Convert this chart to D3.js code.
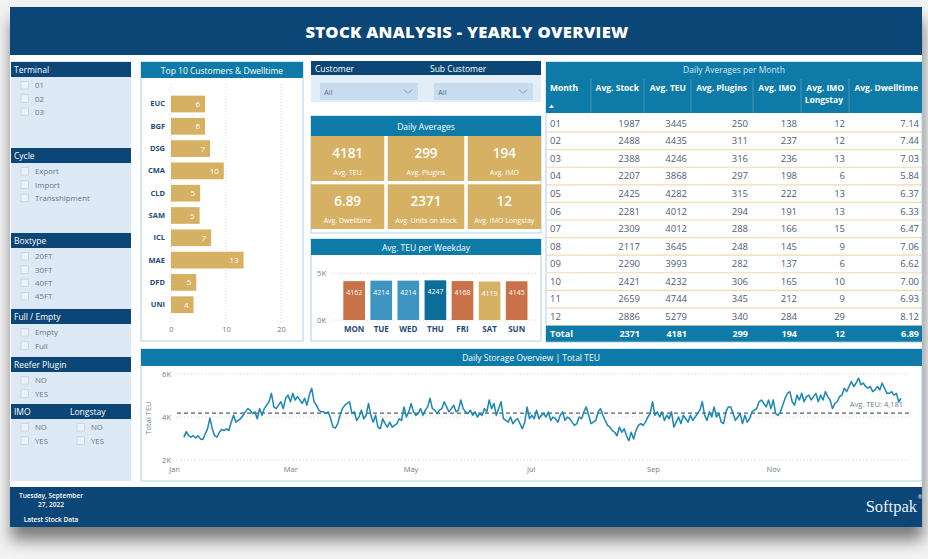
<!DOCTYPE html>
<html>
<head>
<meta charset="utf-8">
<script src="https://cdn.jsdelivr.net/npm/d3@7"></script>
<style>
  html, body { margin: 0; padding: 0; background: #f3f3f3; }
  svg { display: block; font-family: 'Open Sans', 'Noto Sans', sans-serif; }
</style>
</head>
<body>
<svg id="dash" width="928" height="559"></svg>
<script>
// ── DATA ──────────────────────────────────────────────────────────
const terminals = ['01', '02', '03'];
const cycles    = ['Export', 'Import', 'Transshipment'];
const boxtypes  = ['20FT', '30FT', '40FT', '45FT'];
const fullEmpty = ['Empty', 'Full'];
const reefer    = ['NO', 'YES'];
const imoOpts   = ['NO', 'YES'];
const longstayOpts = ['NO', 'YES'];

const customers = ['EUC', 'BGF', 'DSG', 'CMA', 'CLD', 'SAM', 'ICL', 'MAE', 'DFD', 'UNI'];
const dwelltime = [6.2, 6.2, 7.1, 9.6, 5.3, 5.2, 7.3, 13.2, 4.6, 4.1];

const cardValues = ['4181', '299', '194', '6.89', '2371', '12'];
const cardLabels = ['Avg. TEU', 'Avg. Plugins', 'Avg. IMO', 'Avg. Dwelltime', 'Avg. Units on stock', 'Avg. IMO Longstay'];

const weekdays   = ['MON', 'TUE', 'WED', 'THU', 'FRI', 'SAT', 'SUN'];
const weekdayTEU = [4162, 4214, 4214, 4247, 4168, 4119, 4145];

const months      = ['01','02','03','04','05','06','07','08','09','10','11','12'];
const avgStock    = [1987, 2488, 2388, 2207, 2425, 2281, 2309, 2117, 2290, 2421, 2659, 2886];
const avgTEU      = [3445, 4435, 4246, 3868, 4282, 4012, 4012, 3645, 3993, 4232, 4744, 5279];
const avgPlugins  = [250, 311, 316, 297, 315, 294, 288, 248, 282, 306, 345, 340];
const avgIMO      = [138, 237, 236, 198, 222, 191, 166, 145, 137, 165, 212, 284];
const avgLongstay = [12, 12, 13, 6, 13, 13, 15, 9, 6, 10, 9, 29];
const avgDwell    = [7.14, 7.44, 7.03, 5.84, 6.37, 6.33, 6.47, 7.06, 6.62, 7.00, 6.93, 8.12];
const totals      = [2371, 4181, 299, 194, 12, 6.89];

// daily total TEU
const seriesStart = new Date(2022, 0, 6);
const seriesEnd   = new Date(2023, 0, 5);
const dailyTEU = [
  3060,3320,3130,3060,3130,3020,3130,2980,2950,3210,3450,3950,3450,3130,3060,3290,3420,3370,3450,3370,
  3760,4080,3760,3840,3920,4080,4240,4390,4320,4160,4240,3920,4390,4080,4390,4550,4710,5100,4470,4390,
  4550,4710,4390,4870,5020,4710,5100,4790,4950,4790,4630,4870,4550,5020,5340,4710,4550,4320,4240,4240,
  4160,4240,3920,3530,3480,3690,4080,4390,4550,4630,4710,4160,4240,3840,4000,4320,3920,4080,4630,4080,
  3760,4080,3530,3450,3920,3690,3530,3760,3530,3610,3690,3920,3840,4470,4000,4240,4630,4240,4080,4160,
  4390,4080,4320,4470,4870,4390,4320,4160,4320,4390,4710,4470,4240,4390,4550,4240,4320,4790,4390,4240,
  4160,4320,4080,4240,4000,4160,4080,4390,4240,4790,4390,4630,4080,4390,4710,3920,3840,3760,4000,3690,
  3840,3920,3690,3450,3760,4470,3920,4080,3920,4320,3920,4080,4160,4000,4240,3840,4000,3920,3760,4080,
  4240,3840,4000,3920,3760,3610,3690,4000,3920,4240,4470,4080,3690,3760,3840,4240,4390,4080,3840,3610,
  3530,3370,3290,3130,3530,3290,3450,3130,2900,3290,2980,3370,3610,3690,3610,3760,4000,4160,4710,4080,
  4240,4000,4240,3840,4080,3920,4240,3530,3760,4000,3690,4080,3920,3760,4080,3840,4000,4160,4320,4710,
  4080,3840,4240,4000,4470,4000,4160,3760,3690,4240,4470,4470,4160,3840,4000,4160,3690,4080,3760,3920,
  4240,4320,4390,4710,4790,4630,4470,4790,4390,4790,4160,4080,4240,4550,4870,5100,5180,4710,4550,5020,
  4790,5100,4710,4950,5020,4790,4950,5100,4710,5020,4790,5180,4950,4790,4390,4630,4710,4950,5020,5340,
  5180,5420,5650,5420,5580,5810,5500,5580,5420,5340,5420,5180,5260,5420,5260,5580,5340,5100,5100,5180,
  5020,5100,4710,4870
];

// ── STYLE ─────────────────────────────────────────────────────────
const NAVY = '#0c4677', TEAL = '#0e7aa7', GOLD = '#d6b163', PANEL = '#dde9f5';
const BORDER = '#a9d0e5', LABEL = '#1f4b78', GRAY = '#6e7d8e';
const weekdayFill = d3.scaleOrdinal().domain(weekdays)
  .range(['#c9724a', '#3e95c0', '#3e95c0', '#0c6d98', '#c9724a', '#d6b163', '#c9724a']);

const svg = d3.select('#dash');

const defs = svg.append('defs');
defs.append('filter').attr('id', 'shadow')
  .attr('x', '-5%').attr('y', '-5%').attr('width', '110%').attr('height', '125%')
  .append('feDropShadow')
    .attr('dx', 1).attr('dy', 13).attr('stdDeviation', 8)
    .attr('flood-color', '#000').attr('flood-opacity', 0.5);

function box(x, y, w, h, fill, stroke) {
  return svg.append('rect')
    .attr('x', x).attr('y', y).attr('width', w).attr('height', h)
    .attr('fill', fill).attr('stroke', stroke || 'none').attr('stroke-width', 1);
}
function txt(x, y, s, size, fill, anchor, weight) {
  return svg.append('text')
    .attr('x', x).attr('y', y)
    .attr('font-size', size).attr('fill', fill)
    .attr('text-anchor', anchor || 'start')
    .attr('font-weight', weight || 400)
    .text(s);
}
function styleAxis(g, size, fill, weight) {
  g.select('.domain').remove();
  g.attr('font-family', null).attr('font-size', null);
  g.selectAll('text').attr('font-size', size).attr('fill', fill).attr('font-weight', weight || 400);
}

// ── FRAME ─────────────────────────────────────────────────────────
box(10, 7, 912, 520, '#fff').attr('filter', 'url(#shadow)');
box(10, 7, 912, 48, NAVY);
txt(467, 37.5, 'STOCK ANALYSIS - YEARLY OVERVIEW', 16.6, '#fff', 'middle', 800).attr('letter-spacing', 0.3);

// footer
box(10, 487, 912, 40, NAVY);
txt(51, 498, 'Tuesday, September', 6.5, '#fff', 'middle', 600);
txt(51, 507, '27, 2022', 6.5, '#fff', 'middle', 600);
txt(51, 522, 'Latest Stock Data', 6.5, '#fff', 'middle', 600);
txt(917, 512, 'Softpak', 16.5, '#e8eef5', 'end').attr('font-family', "'Liberation Serif', serif");
txt(918, 499, '®', 5, '#e8eef5', 'start');

// ── SLICERS (left) ────────────────────────────────────────────────
box(11, 61, 120, 420, PANEL);

function checkItem(x, cy, s) {
  svg.append('rect')
    .attr('x', x).attr('y', cy - 4).attr('width', 7.5).attr('height', 7.5)
    .attr('fill', '#eaf2fa').attr('stroke', '#c3cdd8').attr('stroke-width', 0.7);
  txt(x + 14, cy + 2.8, s, 7.8, '#65778b');
}

const slicers = [
  { title: 'Terminal',      top: 62,  items: terminals },
  { title: 'Cycle',         top: 148, items: cycles },
  { title: 'Boxtype',       top: 233, items: boxtypes },
  { title: 'Full / Empty',  top: 309, items: fullEmpty },
  { title: 'Reefer Plugin', top: 357, items: reefer },
];
slicers.forEach(s => {
  box(11, s.top, 120, 15, NAVY);
  txt(14, s.top + 11, s.title, 8.5, '#fff');
  s.items.forEach((it, i) => checkItem(21, s.top + 23.5 + i * 13.3, it));
});
box(11, 404, 120, 15, NAVY);
txt(14, 415, 'IMO', 8.5, '#fff');
txt(70, 415, 'Longstay', 8.5, '#fff');
imoOpts.forEach((it, i) => checkItem(21, 427.5 + i * 13.3, it));
longstayOpts.forEach((it, i) => checkItem(77, 427.5 + i * 13.3, it));

// ── TOP 10 CUSTOMERS ──────────────────────────────────────────────
box(141, 62, 162, 279, '#fff', BORDER);
box(141, 62, 162, 16, TEAL);
txt(222, 73.5, 'Top 10 Customers & Dwelltime', 8.5, '#fff', 'middle');

const tx = d3.scaleLinear().domain([0, 20]).range([171, 281]);
const ty = d3.scaleBand().domain(customers).range([92.85, 315.85]).paddingInner(0.25).paddingOuter(0.125);

svg.append('g').selectAll('line').data([0, 10, 20]).join('line')
  .attr('x1', d => tx(d)).attr('x2', d => tx(d))
  .attr('y1', 84).attr('y2', 322)
  .attr('stroke', '#c9d2dc').attr('stroke-width', 1).attr('stroke-dasharray', '1,2');

svg.append('g').selectAll('rect').data(customers).join('rect')
  .attr('x', tx(0)).attr('y', d => ty(d))
  .attr('width', (d, i) => tx(dwelltime[i]) - tx(0))
  .attr('height', ty.bandwidth())
  .attr('fill', GOLD);

svg.append('g').selectAll('text').data(customers).join('text')
  .attr('x', (d, i) => tx(dwelltime[i]) - 5)
  .attr('y', d => ty(d) + ty.bandwidth() / 2 + 3)
  .attr('text-anchor', 'end').attr('font-size', 8).attr('fill', '#fff')
  .text((d, i) => d3.format('.0f')(dwelltime[i]));

svg.append('g').attr('transform', 'translate(165,0)')
  .call(d3.axisLeft(ty).tickSize(0).tickPadding(0))
  .call(g => styleAxis(g, 7.5, LABEL, 700));

svg.append('g').attr('transform', 'translate(0,327)')
  .call(d3.axisBottom(tx).tickValues([0, 10, 20]).tickSize(0).tickPadding(0))
  .call(g => styleAxis(g, 7.5, GRAY));

// ── CUSTOMER SLICERS ──────────────────────────────────────────────
box(311, 61, 230, 14, NAVY);
txt(315, 71.5, 'Customer', 8.5, '#fff');
txt(430, 71.5, 'Sub Customer', 8.5, '#fff');
box(311, 75, 230, 27, '#e2edf8');
[[320, 98], [434, 99]].forEach(([x, w]) => {
  box(x, 83, w, 17, '#c8dcf0');
  txt(x + 4, 94.5, 'All', 7.5, '#5c6d82');
  svg.append('path')
    .attr('d', `M${x + w - 14},89.5 l4,4 l4,-4`)
    .attr('fill', 'none').attr('stroke', '#7d8fa3').attr('stroke-width', 0.9);
});

// ── DAILY AVERAGES CARDS ──────────────────────────────────────────
box(311, 116, 230, 117, '#fff', BORDER);
box(311, 116, 230, 20, TEAL);
txt(426, 129.5, 'Daily Averages', 8.5, '#fff', 'middle');

const cardCols = [[311, 73.3], [387.7, 76.6], [467.7, 73.3]];
const cardRows = [[136, 45], [184.3, 44.7]];
cardValues.forEach((v, i) => {
  const [cx, cw] = cardCols[i % 3];
  const [cy, ch] = cardRows[Math.floor(i / 3)];
  box(cx, cy, cw, ch, GOLD);
  txt(cx + cw / 2, cy + 22, v, 13.5, '#fff', 'middle', 600);
  txt(cx + cw / 2, cy + 38.5, cardLabels[i], 7, '#fff', 'middle');
});

// ── AVG TEU PER WEEKDAY ───────────────────────────────────────────
box(311, 239, 230, 102, '#fff', BORDER);
box(311, 239, 230, 16, TEAL);
txt(426, 250.5, 'Avg. TEU per Weekday', 8.5, '#fff', 'middle');

const wx = d3.scaleBand().domain(weekdays).range([340.6, 530.2]).paddingInner(0.2).paddingOuter(0.1);
const wy = d3.scaleLinear().domain([0, 5000]).range([320, 273.3]);

svg.append('g').selectAll('line').data([0, 5000]).join('line')
  .attr('x1', 332).attr('x2', 537)
  .attr('y1', d => wy(d)).attr('y2', d => wy(d))
  .attr('stroke', '#c2cbd5').attr('stroke-width', 1).attr('stroke-dasharray', '1,2.5');

svg.append('g').selectAll('rect').data(weekdays).join('rect')
  .attr('x', d => wx(d)).attr('y', (d, i) => wy(weekdayTEU[i]))
  .attr('width', wx.bandwidth())
  .attr('height', (d, i) => wy(0) - wy(weekdayTEU[i]))
  .attr('fill', d => weekdayFill(d));

svg.append('g').selectAll('text').data(weekdays).join('text')
  .attr('x', d => wx(d) + wx.bandwidth() / 2)
  .attr('y', (d, i) => wy(weekdayTEU[i]) + 14)
  .attr('text-anchor', 'middle').attr('font-size', 7).attr('fill', '#fff')
  .text((d, i) => weekdayTEU[i]);

svg.append('g').attr('transform', 'translate(0,326)')
  .call(d3.axisBottom(wx).tickSize(0).tickPadding(0))
  .call(g => styleAxis(g, 8, LABEL, 700));

svg.append('g').attr('transform', 'translate(326,0)')
  .call(d3.axisLeft(wy).tickValues([0, 5000]).tickFormat(d => d / 1000 + 'K').tickSize(0).tickPadding(0))
  .call(g => styleAxis(g, 7.5, GRAY));

// ── MONTHLY TABLE ─────────────────────────────────────────────────
box(546, 62, 376, 280, '#fff', BORDER);
box(546, 62, 376, 51, TEAL);
txt(734, 73, 'Daily Averages per Month', 8.5, '#d6e8f3', 'middle');

const colRight = [640, 687, 748, 797, 845, 919];
const colSeps  = [591, 644, 691, 753, 801, 849];
const colHeads = ['Avg. Stock', 'Avg. TEU', 'Avg. Plugins', 'Avg. IMO', 'Avg. IMO', 'Avg. Dwelltime'];
const columns  = [avgStock, avgTEU, avgPlugins, avgIMO, avgLongstay, avgDwell];
const fmtCol   = [d3.format('d'), d3.format('d'), d3.format('d'), d3.format('d'), d3.format('d'), d3.format('.2f')];

colSeps.forEach(x => svg.append('line')
  .attr('x1', x).attr('x2', x).attr('y1', 79).attr('y2', 113)
  .attr('stroke', 'rgba(255,255,255,0.22)'));

txt(550, 91, 'Month', 8.5, '#fff', 'start', 700);
svg.append('path').attr('d', 'M549,108 l2.5,-3.5 l2.5,3.5 z').attr('fill', '#fff');
colHeads.forEach((h, i) => txt(colRight[i] - 1, 91, h, 8.5, '#fff', 'end', 700));
txt(colRight[4] - 2, 103, 'Longstay', 8.5, '#fff', 'end', 700);

const rowY = d3.scaleBand().domain(months).range([114.5, 325.5]);

svg.append('g').selectAll('line').data(months).join('line')
  .attr('x1', 547).attr('x2', 921)
  .attr('y1', d => rowY(d) + rowY.bandwidth()).attr('y2', d => rowY(d) + rowY.bandwidth())
  .attr('stroke', '#efdcae').attr('stroke-width', 1.2);

const rows = svg.append('g').selectAll('g').data(months).join('g')
  .attr('transform', d => `translate(0,${rowY(d) + rowY.bandwidth() / 2 + 3.3})`);
rows.append('text').attr('x', 550).attr('font-size', 9.5).attr('fill', '#4d5d73').text(d => d);
columns.forEach((col, c) => {
  rows.append('text')
    .attr('x', colRight[c]).attr('text-anchor', 'end')
    .attr('font-size', 9.5).attr('fill', '#4d5d73')
    .text((d, i) => fmtCol[c](col[i]));
});

box(546, 325.7, 376, 16, TEAL);
txt(550, 337, 'Total', 9, '#fff', 'start', 700);
totals.forEach((v, c) => txt(colRight[c], 337, fmtCol[c](v), 9, '#fff', 'end', 700));

// ── DAILY STORAGE OVERVIEW ────────────────────────────────────────
box(141, 349, 781, 132, '#fff', BORDER);
box(141, 349, 781, 17, TEAL);
txt(531, 361, 'Daily Storage Overview | Total TEU', 8.5, '#fff', 'middle');

const lx = d3.scaleTime().domain([new Date(2022, 0, 1), new Date(2023, 0, 9)]).range([174, 909]);
const ly = d3.scaleLinear().domain([2000, 6000]).range([460, 374]);
const step = (seriesEnd - seriesStart) / (dailyTEU.length - 1);
const series = dailyTEU.map((v, i) => ({ date: new Date(+seriesStart + i * step), v }));
const avgValue = totals[1];

svg.append('g').selectAll('line').data([2000, 4000, 6000]).join('line')
  .attr('x1', 177).attr('x2', 909)
  .attr('y1', d => ly(d)).attr('y2', d => ly(d))
  .attr('stroke', '#c2cbd5').attr('stroke-width', 1).attr('stroke-dasharray', '1,2.5');

svg.append('line')
  .attr('x1', 177).attr('x2', 909).attr('y1', ly(avgValue)).attr('y2', ly(avgValue))
  .attr('stroke', '#4f5d6e').attr('stroke-width', 1.4).attr('stroke-dasharray', '4,3');

svg.append('path').datum(series)
  .attr('fill', 'none').attr('stroke', '#1a86b2').attr('stroke-width', 1.5)
  .attr('stroke-linejoin', 'round')
  .attr('d', d3.line().x(d => lx(d.date)).y(d => ly(d.v)));

txt(903, ly(avgValue) - 6, 'Avg. TEU: ' + d3.format(',')(avgValue), 7.5, '#6f7b88', 'end');

svg.append('g').attr('transform', 'translate(0,466.5)')
  .call(d3.axisBottom(lx)
    .tickValues(d3.timeMonth.range(new Date(2022, 0, 1), new Date(2022, 11, 31), 2))
    .tickFormat(d3.timeFormat('%b')).tickSize(0).tickPadding(0))
  .call(g => styleAxis(g, 7.5, GRAY));

svg.append('g').attr('transform', 'translate(171,0)')
  .call(d3.axisLeft(ly).tickValues([2000, 4000, 6000]).tickFormat(d => d / 1000 + 'K').tickSize(0).tickPadding(0))
  .call(g => styleAxis(g, 7.5, GRAY));

svg.append('text')
  .attr('transform', 'translate(151,418) rotate(-90)')
  .attr('text-anchor', 'middle').attr('font-size', 7.5).attr('fill', GRAY)
  .text('Total TEU');
</script>
</body>
</html>
